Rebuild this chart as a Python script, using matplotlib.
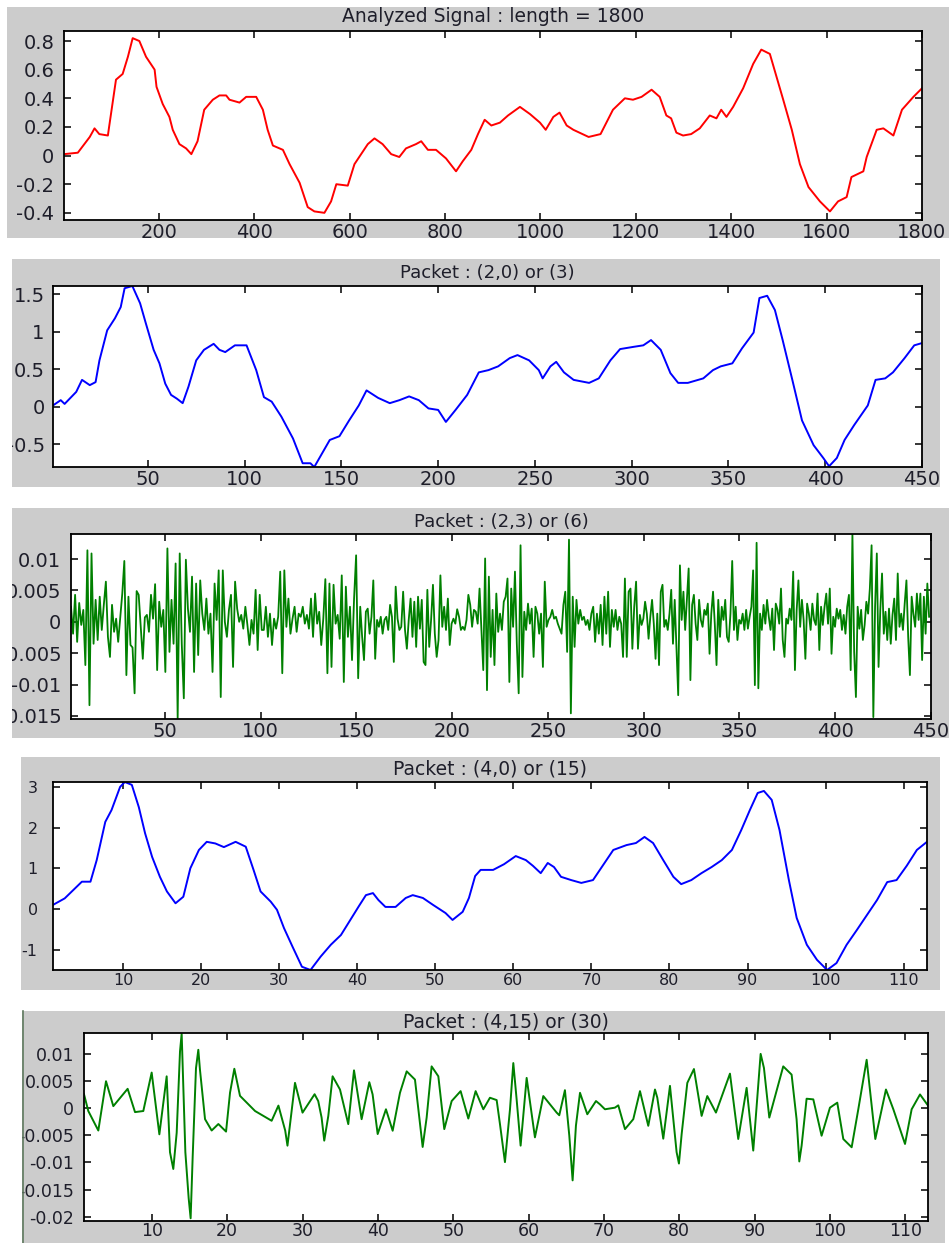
import matplotlib
matplotlib.use("Agg")
import matplotlib.pyplot as plt
import numpy as np
from matplotlib.patches import Rectangle
from matplotlib.lines import Line2D

W, H = 949, 1243

# ---- analyzed signal (length 1800) ----
sig_x = [1, 30, 55, 65, 75, 93, 96, 110, 124, 135,
         145, 159, 173, 191, 195, 208, 222, 229, 243, 257,
         268, 281, 295, 313, 327, 341, 348, 369, 383, 404,
         418, 428, 439, 460, 474, 495, 512, 526, 547, 561,
         572, 596, 610, 624, 638, 652, 669, 687, 704, 718,
         739, 750, 764, 781, 802, 823, 837, 855, 869, 883,
         897, 915, 932, 957, 978, 999, 1011, 1027, 1040, 1055,
         1069, 1101, 1126, 1152, 1177, 1194, 1212, 1233, 1250, 1264,
         1274, 1285, 1299, 1316, 1334, 1355, 1369, 1379, 1390, 1404,
         1425, 1446, 1463, 1481, 1495, 1509, 1527, 1544, 1562, 1586,
         1607, 1624, 1642, 1652, 1677, 1684, 1705, 1719, 1740, 1758,
         1782, 1800]
sig_y = [0.01, 0.02, 0.13, 0.19, 0.15, 0.14, 0.21, 0.53, 0.57, 0.69,
         0.82, 0.80, 0.69, 0.60, 0.48, 0.36, 0.27, 0.18, 0.08, 0.05,
         0.01, 0.10, 0.32, 0.39, 0.42, 0.42, 0.39, 0.37, 0.41, 0.41,
         0.32, 0.18, 0.07, 0.04, -0.06, -0.19, -0.36, -0.39, -0.40, -0.32,
         -0.20, -0.21, -0.06, 0.01, 0.08, 0.12, 0.08, 0.01, -0.01, 0.05,
         0.08, 0.10, 0.04, 0.04, -0.02, -0.11, -0.04, 0.04, 0.15, 0.25,
         0.21, 0.23, 0.28, 0.34, 0.29, 0.23, 0.18, 0.27, 0.30, 0.21,
         0.18, 0.13, 0.15, 0.32, 0.40, 0.39, 0.41, 0.46, 0.41, 0.28,
         0.26, 0.16, 0.14, 0.15, 0.19, 0.28, 0.26, 0.32, 0.27, 0.34,
         0.47, 0.64, 0.74, 0.71, 0.55, 0.39, 0.18, -0.06, -0.22, -0.32,
         -0.39, -0.32, -0.29, -0.15, -0.11, -0.01, 0.18, 0.19, 0.14, 0.32,
         0.41, 0.47]

# ---- packet (2,0) ----
p20_x = [1, 5, 7, 13, 16, 20, 23, 25, 29, 33,
         36, 38, 42, 46, 49, 53, 56, 59, 62, 65,
         68, 71, 75, 79, 84, 87, 90, 95, 101, 106,
         110, 114, 119, 125, 130, 134, 136, 144, 149, 154,
         159, 163, 169, 175, 180, 185, 190, 195, 200, 204,
         209, 215, 221, 226, 231, 237, 241, 247, 252, 254,
         258, 261, 265, 270, 278, 283, 289, 294, 301, 306,
         310, 315, 320, 324, 329, 337, 342, 346, 352, 357,
         363, 366, 370, 374, 378, 383, 388, 394, 399, 402,
         406, 410, 415, 422, 426, 431, 435, 441, 446, 450]
p20_y = [0.02, 0.09, 0.04, 0.20, 0.36, 0.29, 0.33, 0.62, 1.02, 1.18,
         1.33, 1.58, 1.61, 1.38, 1.11, 0.76, 0.58, 0.31, 0.16, 0.11,
         0.05, 0.27, 0.62, 0.76, 0.84, 0.76, 0.73, 0.82, 0.82, 0.49,
         0.13, 0.07, -0.13, -0.42, -0.75, -0.75, -0.80, -0.44, -0.39, -0.18,
         0.02, 0.22, 0.12, 0.05, 0.09, 0.14, 0.09, -0.02, -0.04, -0.20,
         -0.04, 0.16, 0.46, 0.49, 0.54, 0.65, 0.69, 0.62, 0.49, 0.38,
         0.54, 0.60, 0.46, 0.36, 0.32, 0.38, 0.62, 0.77, 0.80, 0.82,
         0.89, 0.76, 0.45, 0.32, 0.32, 0.38, 0.49, 0.54, 0.58, 0.78,
         0.99, 1.45, 1.48, 1.29, 0.89, 0.36, -0.18, -0.51, -0.68, -0.79,
         -0.68, -0.44, -0.24, 0.02, 0.36, 0.38, 0.46, 0.65, 0.82, 0.85]

# ---- packet (2,3), values in 1e-3 ----
p23_a = [2.4, -1.9, 4.3, -3.2, 3.0, -0.5, 1.9, -6.9, 11.4, -13.3,
         10.9, -3.5, 3.5, -2.9, 4.0, -1.3, 2.7, 6.4, -2.4, -5.6,
         2.7, -1.6, 0.5, -3.2, 0.7, 4.5, 9.7, -8.5, 4.0, -3.7,
         -4.1, -11.4, 4.9, 4.3, -0.8, -5.9, 0.7, 1.1, -1.6, 4.3,
         0.5, 6.0, -7.7, 3.2, -0.8, 1.9, -8.0, 11.7, -4.8, 3.5,
         -3.5, 9.3, -15.4, 10.9, -3.5, -12.2, 9.9, 2.1, -1.6, 7.2,
         -8.0, 6.1, -5.3, 6.6, 1.3, -1.3, 3.7, -1.9, 1.3, -8.0,
         6.1, 0.3, 8.2, -12.0, 8.2, 0.0, -2.4, 1.9, 4.3, -7.2,
         6.4, 2.1, 0.0, 1.1, -1.1, 2.4, -0.5, -3.7, 0.3, -1.9,
         5.1, -4.5, 4.3, -1.3, -1.3, 2.4, -2.4, 1.3, -3.7, 0.5,
         -1.1, 0.8, 8.0, -8.2, 8.2, -0.8, 3.7, -1.9, 0.5, 2.4,
         -1.6, 1.3, 0.8, 2.4, -0.3, 1.1, -1.1, 3.7, -2.4, 4.5,
         -0.3, 1.6, -3.7, 0.5, 6.8, -8.2, 6.1, -7.2, 5.9, -0.3,
         1.1, -2.7, 7.4, -9.6, 5.6, -2.4, 2.4, -6.1, 3.7, 10.6,
         -9.0, 2.4]
p23_b = [-2.4, -6.1, 1.6, 2.1, -1.9, 0.8, 6.6, -5.9, 0.3, -0.8,
         0.8, -1.9, 0.3, 0.8, -1.3, 2.7, 0.8, -6.4, 5.6, 0.5,
         -1.3, -0.8, 4.8, -1.3, -4.3, 0.3, 3.7, -2.4, 3.2, -4.0,
         4.0, -1.1, 3.5, -6.4, -6.9, 5.1, -4.0, 0.3, 5.9, -1.9,
         -5.6, -2.9, 7.4, -0.8, 2.4, -1.3, 3.7, -3.7, -0.3, 0.5,
         -0.3, 2.0, 0.8, -1.3, -0.8, -1.3, 0.3, 4.3, 2.7, -0.8,
         1.9, 1.6, -0.3, 5.3, -1.3, -7.7, 10.1, -10.9, 7.2, -5.6,
         1.9, -6.9, 4.5, -1.6, 1.3, -1.3, 3.2, 4.0, 6.9, -9.6,
         5.3, -0.8, 8.0, -3.5, -11.4, 12.2, -8.8, 1.6, -1.3, 2.9,
         -0.3, 2.1, -5.6, 2.4, 1.3, -1.9, 1.3, -7.2, 6.4, -0.8,
         0.3, 0.8, 1.9, 0.5, 0.8, -0.3, -1.1, -1.9, 2.7, 4.8,
         -4.8, 13.1, -14.6, 4.0, -4.0, 3.5, -0.3, 1.9, 0.3, 0.8,
         -0.5, 0.3, -1.3, 1.3, 2.4, -3.2, 1.3, -1.9, 2.7, -3.7,
         4.0, -1.9, 4.8, -4.0, 1.9, -0.8, 1.9, -1.3, 0.8, -0.3,
         -5.6, 6.9, -5.6, 4.8, 5.3, -4.3, 2.4, 6.4, -4.3]
p23_c = [1.1, -0.5, 0.5, 3.2, 1.3, -2.7, 0.8, 3.5, -0.3, -5.9,
         1.3, -6.9, 4.8, 5.9, -0.8, 0.3, -1.3, 1.3, 5.1, -3.5,
         3.5, -4.0, -11.7, 9.0, 0.3, 4.8, -1.3, 3.5, 8.5, -9.3,
         2.7, 4.3, -0.3, -2.9, 3.5, 0.3, -0.8, 1.9, 1.1, 2.9,
         -5.1, 1.3, 4.8, -0.3, -6.9, 3.5, -2.4, 2.4, 0.3, 3.5,
         -2.4, -3.2, 1.3, 9.7, -1.3, 2.4, -2.9, 0.3, -0.3, 1.3,
         -1.3, 1.9, -1.1, 0.8, 2.4, 8.2, -10.1, 12.6, -10.6, 1.3,
         -1.3, 2.7, -0.3, 3.5, 0.8, -1.3, 2.1, -4.5, 2.9, 1.9,
         -0.3, 5.3, -2.9, -5.6, 0.5, -0.3, 2.1, 0.3, 8.0, -7.7,
         1.9, 6.6, -0.8, 3.5, 0.3, -5.9, 2.9, 1.3, -1.3, 2.9,
         0.3, -0.5, 4.5, -4.5, 2.4, -0.5, 2.4, 4.5, -0.3, 5.3,
         -5.1, 0.8, -0.8, 2.1, 0.5, 1.9, -1.3, 1.1, -1.9, 2.4,
         4.3, -7.7, 14.1, -4.8, -12.0, 2.4, -1.1, 1.9, -2.9, -0.5,
         3.2, 1.3, 5.3, 12.2, -15.2, 2.4, 10.9, -7.2, 1.9, 7.7,
         -1.9, 1.6, -2.9, 2.1, -3.5, 1.1, 3.7, -2.9, 7.7, -0.8,
         1.3, -1.3, 2.9, 6.6, -2.4, -8.5, 4.0, 1.3, -0.8, 4.5,
         0.3, 4.5, -6.1, 4.0, -1.9, 6.1, 0.8]
# sample span covered by each stretch of p23 readings
p23_spans = [(1, 152), (153, 297), (298, 449)]

# ---- packet (4,0) ----
p40_x = [1, 2.5, 4.7, 5.8, 6.6, 7.7, 8.5, 9.6, 10.2, 11.1,
         12, 12.8, 13.7, 14.7, 15.6, 16.7, 17.7, 18.6, 19.7, 20.7,
         21.8, 22.9, 24.4, 25.7, 26.7, 27.6, 28.9, 29.7, 30.6, 31.7,
         32.9, 34, 35.3, 36.6, 37.9, 39.1, 40.2, 41.1, 42, 42.7,
         43.6, 44.9, 46.2, 47.1, 48.4, 49.7, 51.3, 52.2, 53.5, 54.3,
         55.1, 55.8, 57.4, 58.8, 60.3, 61.6, 62.5, 63.5, 64.4, 65.2,
         66.1, 67.4, 68.7, 70.2, 71.5, 72.8, 74.5, 75.7, 76.8, 77.9,
         79.2, 80.5, 81.5, 82.8, 84.1, 85.4, 86.7, 88, 89.2, 90.3,
         91.3, 92.1, 93.1, 94.1, 95.3, 96.3, 97.6, 98.9, 100.2, 101.4,
         102.7, 104, 105.3, 106.6, 107.9, 109.1, 110.4, 111.7, 113]
p40_y = [0.10, 0.26, 0.67, 0.67, 1.20, 2.14, 2.43, 3.00, 3.12, 3.05,
         2.50, 1.86, 1.28, 0.79, 0.43, 0.14, 0.30, 1.00, 1.45, 1.65,
         1.61, 1.52, 1.65, 1.53, 0.96, 0.43, 0.18, -0.02, -0.47, -0.93,
         -1.42, -1.50, -1.17, -0.88, -0.64, -0.27, 0.07, 0.34, 0.39, 0.22,
         0.05, 0.05, 0.27, 0.34, 0.27, 0.10, -0.10, -0.27, -0.07, 0.27,
         0.81, 0.96, 0.96, 1.10, 1.30, 1.20, 1.06, 0.88, 1.13, 1.03,
         0.79, 0.71, 0.64, 0.71, 1.08, 1.45, 1.57, 1.62, 1.77, 1.62,
         1.20, 0.79, 0.61, 0.71, 0.88, 1.03, 1.20, 1.45, 1.94, 2.43,
         2.85, 2.90, 2.68, 1.94, 0.71, -0.22, -0.88, -1.25, -1.50, -1.33,
         -0.88, -0.52, -0.15, 0.22, 0.66, 0.71, 1.06, 1.45, 1.65]

# ---- packet (4,15), values in 1e-3 ----
p415_x = [1.0, 1.57, 2.9, 3.92, 4.89, 6.79, 7.77, 8.87, 9.98, 11.0,
          11.97, 12.41, 12.85, 13.3, 13.74, 13.96, 14.45, 14.89, 15.15, 15.42,
          15.86, 16.17, 16.39, 17.06, 17.94, 18.83, 19.85, 20.38, 20.95, 21.7,
          23.7, 25.9, 26.8, 27.7, 28.0, 29.0, 30.0, 31.6, 32.08, 32.53,
          32.88, 33.42, 33.99, 34.97, 36.07, 36.83, 37.84, 38.86, 39.3, 39.97,
          41.07, 41.96, 42.93, 43.82, 44.92, 45.94, 46.47, 47.13, 48.02, 48.81,
          49.79, 50.98, 52.0, 52.97, 53.99, 54.87, 55.76, 56.2, 56.86, 57.53,
          57.97, 58.41, 58.94, 59.74, 60.84, 61.95, 63.72, 64.07, 64.82, 65.4,
          65.84, 66.28, 66.82, 67.79, 68.94, 69.47, 70.13, 71.46, 71.9, 72.79,
          73.89, 74.78, 75.88, 76.77, 77.08, 77.87, 78.76, 79.64, 79.95, 80.31,
          81.06, 81.94, 82.96, 83.71, 84.86, 86.72, 87.82, 88.93, 89.81, 90.79,
          91.23, 91.94, 93.79, 94.9, 95.56, 95.92, 96.23, 96.89, 97.78, 98.88,
          99.99, 100.96, 101.76, 102.87, 103.75, 104.86, 106.01, 107.42, 108.4, 109.95,
          110.83, 111.94, 113.04]
p415_y = [2.6, -0.5, -4.1, 5.0, 0.4, 3.6, -0.7, -0.5, 6.6, -4.8,
          5.9, -8.1, -11.2, -4.5, 10.5, 13.8, -8.1, -16.6, -20.3, -9.0,
          7.4, 10.8, 7.1, -2.0, -4.1, -2.9, -4.3, 2.9, 7.3, 2.3,
          -0.5, -2.3, 0.5, -4.1, -6.9, 4.7, -0.8, 2.6, 1.34, -1.71,
          -5.97, -1.4, 5.91, 3.47, -2.92, 7.01, -2.01, 4.82, 2.56, -4.75,
          -0.18, -4.14, 2.86, 6.82, 5.3, -7.13, -1.71, 7.74, 5.91, -3.84,
          1.34, 3.17, -1.89, 3.17, -0.18, 1.95, 1.52, -2.92, -9.93, -0.18,
          8.35, 1.65, -6.89, 5.61, -5.36, 2.26, -0.79, -1.28, 3.35, -5.06,
          -13.3, -3.2, 2.86, -1.1, 1.34, 0.73, -0.18, 0.12, 0.55, -3.84,
          -2.01, 3.17, -3.23, 3.47, 1.95, -5.61, 4.14, -8.1, -10.2, -4.75,
          4.69, 7.25, -1.4, 2.26, -0.79, 6.4, -5.67, 3.78, -7.8, 10.05,
          7.44, -1.71, 7.74, 6.22, -2.01, -9.81, -6.89, 1.77, 1.65, -5.06,
          0.12, 1.04, -5.67, -7.19, -0.18, 8.96, -5.67, 3.47, -0.18, -6.58,
          -0.18, 2.56, 0.43]

# tick labels
sig_xt = [200, 400, 600, 800, 1000, 1200, 1400, 1600, 1800]
sig_yt = ["-0.4", "-0.2", "0", "0.2", "0.4", "0.6", "0.8"]
p2_xt = [50, 100, 150, 200, 250, 300, 350, 400, 450]
p20_yt = ["-0.5", "0", "0.5", "1", "1.5"]
p23_yt = ["-0.015", "-0.01", "-0.005", "0", "0.005", "0.01"]
p4_xt = [10, 20, 30, 40, 50, 60, 70, 80, 90, 100, 110]
p40_yt = ["-1", "0", "1", "2", "3"]
p415_yt = ["-0.02", "-0.015", "-0.01", "-0.005", "0", "0.005", "0.01"]

GRAY = "#cccccc"
TXT = "#1e1e2a"

plt.rcParams["font.family"] = ["DejaVu Sans"]
plt.rcParams["axes.unicode_minus"] = False

fig = plt.figure(figsize=(W / 100, H / 100), dpi=100)
fig.patch.set_facecolor("white")


def panel(gray, box, title, title_y, xlim, ylim, xt, yt, tsize, lsize, ypad, xpad=2.5):
    gl, gt, gr, gb = gray
    fig.add_artist(Rectangle((gl / W, 1 - gb / H), (gr - gl) / W, (gb - gt) / H,
                             transform=fig.transFigure, facecolor=GRAY,
                             edgecolor="none", zorder=-5))
    # screenshot crop: anything left of the gray panel is cut away
    fig.add_artist(Rectangle((0, 1 - gb / H), gl / W, (gb - gt) / H,
                             transform=fig.transFigure, facecolor="white",
                             edgecolor="none", zorder=10))
    l, t, r, b = box
    ax = fig.add_axes([l / W, 1 - b / H, (r - l) / W, (b - t) / H])
    ax.set_xlim(*xlim)
    ax.set_ylim(*ylim)
    ax.set_xticks(xt, [str(v) for v in xt])
    ax.set_yticks([float(v) for v in yt], yt)
    ax.tick_params(direction="in", length=5, width=1.1, top=True, right=True,
                   labelsize=lsize, labelcolor=TXT)
    ax.tick_params(axis="y", pad=ypad)
    ax.tick_params(axis="x", pad=xpad)
    for sp in ax.spines.values():
        sp.set_linewidth(1.3)
    fig.text((l + r) / 2 / W, 1 - title_y / H, title, ha="center", va="center",
             fontsize=tsize, color=TXT)
    return ax


ax1 = panel((7, 7, 949, 238), (64, 31, 922, 220), "Analyzed Signal : length = 1800", 17,
            (1, 1800), (-0.45, 0.87), sig_xt, sig_yt, 13.5, 14, 7)
ax1.plot(sig_x, sig_y, color="#ff0000", lw=1.4)

ax2 = panel((12, 259, 940, 487), (53, 286, 922, 467), "Packet : (2,0) or (3)", 273,
            (1, 450), (-0.8, 1.61), p2_xt, p20_yt, 13, 14, 6)
ax2.plot(p20_x, p20_y, color="#0000ff", lw=1.4)

ax3 = panel((12, 508, 949, 738), (71, 534, 931, 719), "Packet : (2,3) or (6)", 522,
            (1, 450), (-0.0155, 0.014), p2_xt, p23_yt, 13, 14, 7)
p23_x = np.concatenate([np.linspace(s, e, len(v)) for (s, e), v in
                        zip(p23_spans, [p23_a, p23_b, p23_c])])
p23_y = np.array(p23_a + p23_b + p23_c) * 1e-3
ax3.plot(p23_x, p23_y, color="#008000", lw=1.3)

ax4 = panel((21, 757, 940, 990), (53, 782, 927, 970), "Packet : (4,0) or (15)", 769,
            (1, 113), (-1.5, 3.12), p4_xt, p40_yt, 13.5, 11.5, 11)
ax4.plot(p40_x, p40_y, color="#0000ff", lw=1.4)

ax5 = panel((22, 1011, 945, 1243), (84, 1033, 928, 1221), "Packet : (4,15) or (30)", 1022,
            (1, 113), (-0.0208, 0.0139), p4_xt, p415_yt, 13.5, 12.5, 7, xpad=1)
ax5.plot(p415_x, np.array(p415_y) * 1e-3, color="#008000", lw=1.4)

fig.add_artist(Line2D([22.5 / W, 22.5 / W], [0, 1 - 1011 / H], transform=fig.transFigure,
                      color="#5f7a5f", lw=1.2, zorder=11))

fig.savefig("out.png", dpi=100, facecolor="white")
